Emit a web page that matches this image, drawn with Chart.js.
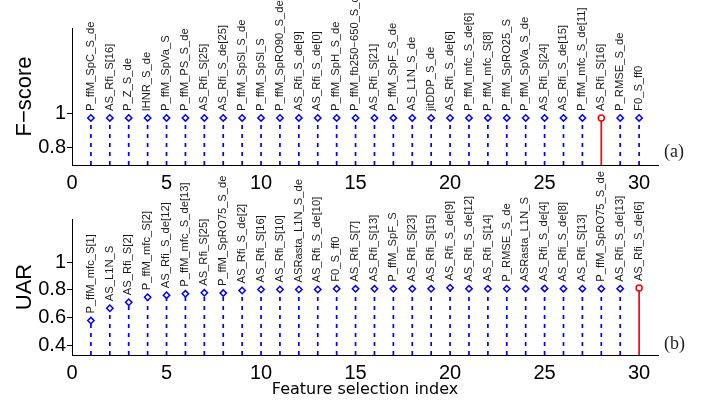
<!DOCTYPE html>
<html><head><meta charset="utf-8">
<script src="https://cdn.jsdelivr.net/npm/chart.js@4/dist/chart.umd.min.js"></script>
<style>
html,body{margin:0;padding:0;background:#fff;width:710px;height:403px;overflow:hidden;}
.wrap{position:absolute;left:0;width:710px;}
#w1{top:0;height:195px;}
#w2{top:155px;height:248px;}
.tag{position:absolute;font-family:"Liberation Serif","DejaVu Serif",serif;font-size:18px;line-height:20px;color:#222;}
</style></head>
<body>
<div class="wrap" id="w1"><canvas id="c1" width="710" height="195"></canvas></div>
<div class="wrap" id="w2"><canvas id="c2" width="710" height="248"></canvas></div>
<div class="tag" style="left:664px;top:141px;">(a)</div>
<div class="tag" style="left:664px;top:333px;">(b)</div>
<script>
const featureIndex = [1,2,3,4,5,6,7,8,9,10,11,12,13,14,15,16,17,18,19,20,21,22,23,24,25,26,27,28,29,30];
const fscoreLabels = ["P_ffM_SpC_S_de","AS_Rfi_S[16]","P_Z_S_de","lHNR_S_de","P_ffM_SpVa_S","P_ffM_PS_S_de","AS_Rfi_S[25]","AS_Rfi_S_de[25]","P_ffM_SpSl_S_de","P_ffM_SpSl_S","P_ffM_SpRO90_S_de","AS_Rfi_S_de[9]","AS_Rfi_S_de[0]","P_ffM_SpH_S_de","P_ffM_fb250\u2212650_S_de","AS_Rfi_S[21]","P_ffM_SpF_S_de","AS_L1N_S_de","jitDDP_S_de","AS_Rfi_S_de[6]","P_ffM_mfc_S_de[6]","P_ffM_mfc_S[8]","P_ffM_SpRO25_S","P_ffM_SpVa_S_de","AS_Rfi_S[24]","AS_Rfi_S_de[15]","P_ffM_mfc_S_de[11]","AS_Rfi_S[16]","P_RMSE_S_de","F0_S_ff0"];
const fscoreValues = [0.975,0.975,0.975,0.975,0.975,0.975,0.975,0.975,0.975,0.975,0.975,0.975,0.975,0.975,0.975,0.975,0.975,0.975,0.975,0.975,0.975,0.975,0.975,0.975,0.975,0.975,0.975,0.975,0.975,0.975];
const fscoreBest = [28];
const uarLabels = ["P_ffM_mfc_S[1]","AS_L1N_S","AS_Rfi_S[2]","P_ffM_mfc_S[2]","AS_Rfi_S_de[12]","P_ffM_mfc_S_de[13]","AS_Rfi_S[25]","P_ffM_SpRO75_S_de","AS_Rfi_S_de[2]","AS_Rfi_S[16]","AS_Rfi_S[10]","ASRasta_L1N_S_de","AS_Rfi_S_de[10]","F0_S_ff0","AS_Rfi_S[7]","AS_Rfi_S[13]","P_ffM_SpF_S","AS_Rfi_S[23]","AS_Rfi_S[15]","AS_Rfi_S_de[9]","AS_Rfi_S_de[12]","AS_Rfi_S[14]","P_RMSE_S_de","ASRasta_L1N_S","AS_Rfi_S_de[4]","AS_Rfi_S_de[8]","AS_Rfi_S[13]","P_ffM_SpRO75_S_de","AS_Rfi_S_de[13]","AS_Rfi_S_de[6]"];
const uarValues = [0.578,0.667,0.71,0.746,0.761,0.771,0.778,0.776,0.795,0.802,0.802,0.802,0.802,0.807,0.807,0.807,0.807,0.807,0.807,0.815,0.807,0.807,0.807,0.807,0.81,0.808,0.808,0.808,0.808,0.812];
const uarBest = [30];
const xTicks = [0,5,10,15,20,25,30];
const fscoreTicks = [0.8,1];
const uarTicks = [0.4,0.6,0.8,1];

const FONT = '"Liberation Sans", Arial, sans-serif';
const BLUE = '#0000ff', RED = '#ff0000';

function stems(idx, vals, base, pick){
  const out=[];
  idx.forEach((x,i)=>{ if(pick(x)){ out.push({x:x,y:base},{x:x,y:vals[i]},{x:x,y:null}); } });
  return out;
}
function pts(idx, vals, pick){
  const out=[];
  idx.forEach((x,i)=>{ if(pick(x)) out.push({x:x,y:vals[i]}); });
  return out;
}
const labelPlugin = {
  id:'stemLabels',
  afterDatasetsDraw(chart){
    const o = chart.options.plugins.stemLabels;
    const ctx = chart.ctx, xs = chart.scales.x, ys = chart.scales.y;
    ctx.save();
    ctx.font = '10px ' + FONT;
    ctx.fillStyle = '#1a1a1a';
    ctx.textAlign = 'left';
    ctx.textBaseline = 'middle';
    o.idx.forEach((x,i)=>{
      const px = xs.getPixelForValue(x), py = ys.getPixelForValue(o.vals[i]) - 7;
      ctx.save(); ctx.translate(px, py); ctx.rotate(-Math.PI/2); ctx.scale(1.12, 1);
      ctx.fillText(o.labels[i], 0, 0); ctx.restore();
    });
    ctx.restore();
  }
};

function makeChart(id, cfg){
  const best = cfg.best;
  const isBest = x => best.includes(x);
  const notBest = x => !best.includes(x);
  return new Chart(document.getElementById(id), {
    type:'scatter',
    data:{datasets:[
      {data:stems(featureIndex,cfg.vals,cfg.min,notBest), showLine:true, spanGaps:false, borderColor:BLUE, borderWidth:1.7, borderDash:[4,5], pointRadius:0, order:3},
      {data:stems(featureIndex,cfg.vals,cfg.min,isBest), showLine:true, spanGaps:false, borderColor:RED, borderWidth:1.7, pointRadius:0, order:2},
      {data:pts(featureIndex,cfg.vals,notBest), showLine:false, pointStyle:'rectRot', pointRadius:3.2, pointBorderWidth:1.5, pointBorderColor:BLUE, pointBackgroundColor:'#fff', order:1},
      {data:pts(featureIndex,cfg.vals,isBest), showLine:false, pointRadius:3, pointBorderWidth:1.5, pointBorderColor:RED, pointBackgroundColor:'#fff', order:0}
    ]},
    options:{
      responsive:false, animation:false, events:[],
      layout:{padding:{top:cfg.padTop, right:52, left:0, bottom:0}},
      plugins:{legend:{display:false}, tooltip:{enabled:false}, stemLabels:{idx:featureIndex, vals:cfg.vals, labels:cfg.labels}},
      scales:{
        x:{type:'linear', min:0, max:31,
          afterBuildTicks(s){ s.ticks = xTicks.map(v=>({value:v})); },
          afterFit(s){ s.height = cfg.xh; },
          grid:{display:true, drawOnChartArea:false, drawTicks:false},
          border:{display:true, color:'#000', width:1},
          ticks:{color:'#000', font:{family:FONT, size:20}, padding:6, maxRotation:0},
          title:{display:cfg.xTitle!=null, text:cfg.xTitle||'', color:'#000', font:{family:'"DejaVu Sans", sans-serif', size:16}, padding:{top:0,bottom:4}}
        },
        y:{type:'linear', min:cfg.min, max:cfg.max,
          afterBuildTicks(s){ s.ticks = cfg.ticks.map(v=>({value:v})); },
          afterFit(s){ s.width = 72; },
          grid:{display:true, drawOnChartArea:false, drawTicks:true, tickLength:5, color:'#000'},
          border:{display:true, color:'#000', width:1},
          ticks:{color:'#000', font:{family:FONT, size:20}, padding:1, callback:v=>String(v)},
          title:{display:true, text:cfg.yTitle, color:'#000', font:{family:FONT, size:22}, padding:{top:12,bottom:0}}
        }
      }
    },
    plugins:[labelPlugin]
  });
}
makeChart('c1',{vals:fscoreValues, labels:fscoreLabels, best:fscoreBest, min:0.7, max:1.5, ticks:fscoreTicks, padTop:28, xh:30, yTitle:'F\u2212score', xTitle:null});
makeChart('c2',{vals:uarValues, labels:uarLabels, best:uarBest, min:0.33, max:1.31, ticks:uarTicks, padTop:64, xh:48, yTitle:'UAR', xTitle:'Feature selection index'});
</script>
</body></html>
